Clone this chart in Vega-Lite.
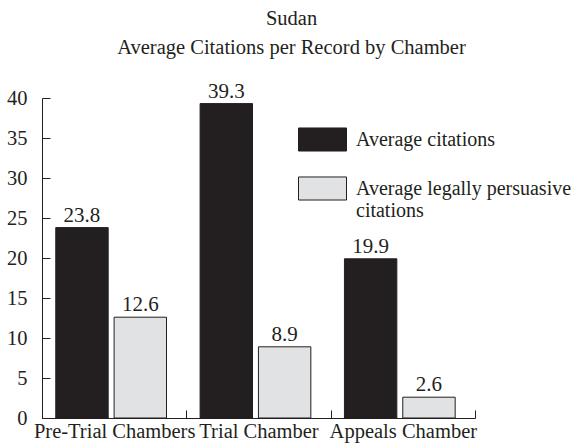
{
  "$schema": "https://vega.github.io/schema/vega-lite/v6.json",
  "autosize": "none",
  "width": 433,
  "height": 320,
  "padding": {"left": 42, "top": 98, "right": 107, "bottom": 28},
  "background": "white",
  "title": {
    "text": ["Sudan", "Average Citations per Record by Chamber"],
    "font": "Liberation Serif",
    "fontSize": 20.5,
    "fontWeight": "normal",
    "color": "#231f20",
    "lineHeight": 29,
    "anchor": "middle",
    "frame": "group",
    "dx": 33,
    "offset": 22
  },
  "data": {
    "values": [
      {"chamber": "Pre-Trial Chambers", "series": "Average citations", "value": 23.8},
      {"chamber": "Pre-Trial Chambers", "series": "Average legally persuasive citations", "value": 12.6},
      {"chamber": "Trial Chamber", "series": "Average citations", "value": 39.3},
      {"chamber": "Trial Chamber", "series": "Average legally persuasive citations", "value": 8.9},
      {"chamber": "Appeals Chamber", "series": "Average citations", "value": 19.9},
      {"chamber": "Appeals Chamber", "series": "Average legally persuasive citations", "value": 2.6}
    ]
  },
  "config": {
    "view": {"stroke": null},
    "font": "Liberation Serif"
  },
  "encoding": {
    "x": {
      "field": "chamber",
      "type": "nominal",
      "sort": null,
      "scale": {"paddingInner": 0, "paddingOuter": 0},
      "axis": {
        "title": null,
        "labelAngle": 0,
        "labelFont": "Liberation Serif",
        "labelFontSize": 20.5,
        "labelColor": "#231f20",
        "labelPadding": 11,
        "tickBand": "extent",
        "tickSize": -8,
        "tickColor": "#231f20",
        "domainColor": "#231f20",
        "labelOverlap": false,
        "labelLimit": 0
      }
    },
    "xOffset": {
      "field": "series",
      "type": "nominal",
      "scale": {"paddingInner": 0.1017, "paddingOuter": 0.288, "align": 0.41}
    },
    "y": {
      "field": "value",
      "type": "quantitative",
      "scale": {"domain": [0, 40], "nice": false},
      "axis": {
        "title": null,
        "values": [0, 5, 10, 15, 20, 25, 30, 35, 40],
        "grid": false,
        "labelFont": "Liberation Serif",
        "labelFontSize": 20.5,
        "labelColor": "#231f20",
        "tickSize": -8,
        "labelPadding": 23,
        "tickColor": "#231f20",
        "domainColor": "#231f20"
      }
    }
  },
  "layer": [
    {
      "mark": {"type": "bar", "stroke": "#231f20", "strokeWidth": 1},
      "encoding": {
        "fill": {
          "field": "series",
          "type": "nominal",
          "scale": {"range": ["#231f20", "#e1e2e4"]},
          "legend": {
            "title": null,
            "orient": "none",
            "legendX": 256,
            "legendY": 17,
            "symbolType": "M-1,-0.48H1V0.48H-1Z",
            "symbolSize": 2304,
            "symbolStrokeColor": "#231f20",
            "symbolStrokeWidth": 1,
            "labelFont": "Liberation Serif",
            "labelFontSize": 20,
            "labelColor": "#231f20",
            "labelOffset": 9,
            "labelLimit": 0,
            "rowPadding": 10,
            "labelExpr": "datum.label == 'Average legally persuasive citations' ? ['Average legally persuasive', 'citations'] : datum.label"
          }
        }
      }
    },
    {
      "mark": {"type": "text", "baseline": "alphabetic", "dy": -6, "font": "Liberation Serif", "fontSize": 21, "color": "#231f20"},
      "encoding": {
        "text": {"field": "value", "type": "quantitative", "format": ".1f"}
      }
    }
  ]
}
